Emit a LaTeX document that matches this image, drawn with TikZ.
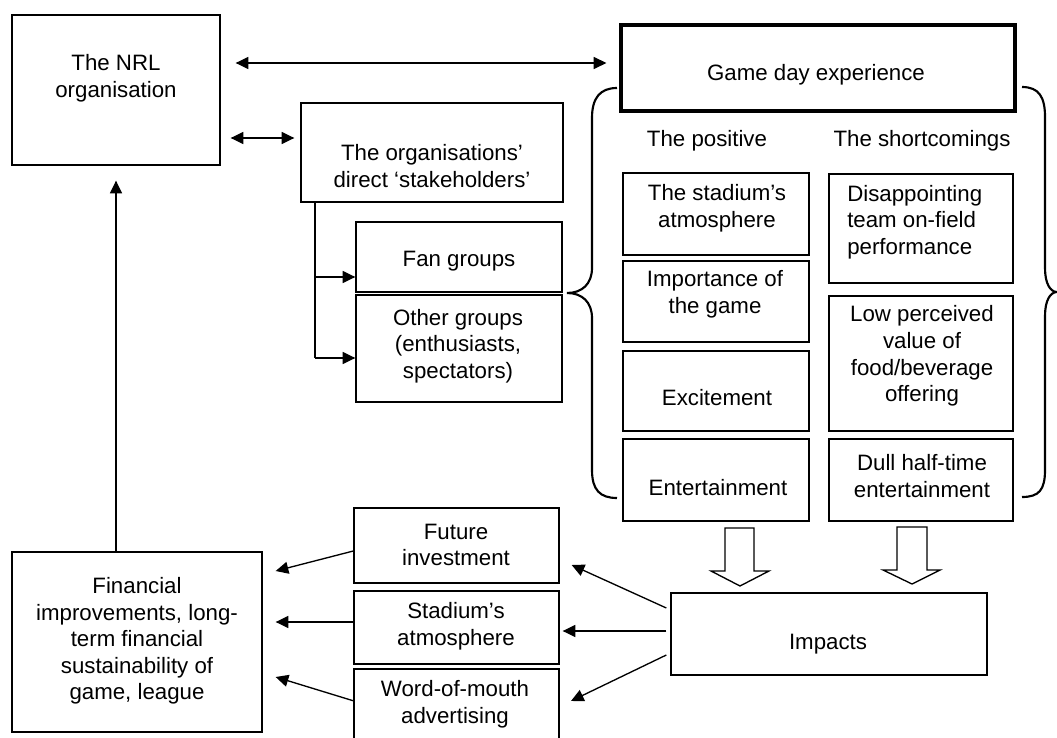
\documentclass[tikz,border=0pt]{standalone}
\usepackage{fontspec}
\setmainfont{Liberation Sans}
\usetikzlibrary{arrows.meta,fit,calc}
\newcommand\fsz{\fontsize{16.7}{19.9}\selectfont}
\begin{document}
\begin{tikzpicture}[x=0.75pt,y=-0.75pt,
  box/.style={draw, line width=1pt, inner sep=0pt},
  thickbox/.style={draw, line width=2.4pt, inner sep=0pt},
  txt/.style={align=center, inner sep=0pt, font=\fsz},
  arr/.style={line width=1pt, -{Triangle[length=9.5pt,width=9pt]}},
  dbl/.style={line width=1pt, {Triangle[length=9.5pt,width=9pt]}-{Triangle[length=9.5pt,width=9pt]}},
  brace/.style={line width=1.6pt},
  hollow/.style={draw, line width=1pt, fill=white, line join=miter}]
\useasboundingbox (0,0) rectangle (1057,738);
% boxes
\node[box, fit={(12,15)(220,165)}] (nrl) {};
\node[box, fit={(301,103)(563,202)}] (sh) {};
\node[box, fit={(356,222)(562,292)}] (fan) {};
\node[box, fit={(356,295)(562,402)}] (oth) {};
\node[thickbox, fit={(621,25)(1015,111)}] (gd) {};
\node[box, fit={(623,173)(809,255)}] (p1) {};
\node[box, fit={(623,261)(809,342)}] (p2) {};
\node[box, fit={(623,351)(809,431)}] (p3) {};
\node[box, fit={(623,439)(809,521)}] (p4) {};
\node[box, fit={(829,174)(1013,283)}] (s1) {};
\node[box, fit={(829,296)(1013,431)}] (s2) {};
\node[box, fit={(829,439)(1013,521)}] (s3) {};
\node[box, fit={(671,593)(987,675)}] (imp) {};
\node[box, fit={(12,552)(262,732)}] (fin) {};
\node[box, fit={(354,508)(559,583)}] (fut) {};
\node[box, fit={(354,591)(559,664)}] (sta) {};
\node[inner sep=0pt, outer sep=0pt, fit={(354,669)(559,740)}] (wom) {};
\draw[line width=1pt] (wom.south west) -- (wom.north west) -- (wom.north east) -- (wom.south east);
% texts
\node[txt] (nrlT) at (116,78) {The NRL\\organisation};
\node[txt] (shT) at (432,166) {The organisations’\\direct ‘stakeholders’};
\node[txt] (fanT) at (459,261) {Fan groups};
\node[txt] (othT) at (458,346) {Other groups\\(enthusiasts,\\spectators)};
\node[txt] (gdT) at (816,75) {Game day experience};
\node[txt] (posT) at (707,141) {The positive};
\node[txt] (shoT) at (922,141) {The shortcomings};
\node[txt] (p1T) at (717,208) {The stadium’s\\atmosphere};
\node[txt] (p2T) at (715,294) {Importance of\\the game};
\node[txt] (p3T) at (717,398) {Excitement};
\node[txt] (p4T) at (718,488) {Entertainment};
\node[txt, align=left, anchor=west] (s1T) at (847,222) {Disappointing\\team on-field\\performance};
\node[txt] (s2T) at (922,356) {Low perceived\\value of\\food/beverage\\offering};
\node[txt] (s3T) at (922,476) {Dull half-time\\entertainment};
\node[txt] (impT) at (828,644) {Impacts};
\node[txt] (finT) at (137,641) {Financial\\improvements, long-\\term financial\\sustainability of\\game, league};
\node[txt] (futT) at (456,545) {Future\\investment};
\node[txt] (staT) at (456,626) {Stadium’s\\atmosphere};
\node[txt] (womT) at (455,704) {Word-of-mouth\\advertising};
% braces
\draw[brace] (617,88) .. controls (600,88) and (592,98) .. (592,118) -- (592,268)
  .. controls (592,284) and (582,293) .. (567,293)
  .. controls (582,293) and (592,302) .. (592,318) -- (592,470)
  .. controls (592,490) and (600,498) .. (617,498);
\draw[brace] (1022,87) .. controls (1039,87) and (1045,97) .. (1045,117) -- (1045,268)
  .. controls (1045,283) and (1050,292) .. (1057,292)
  .. controls (1050,292) and (1045,301) .. (1045,316) -- (1045,470)
  .. controls (1045,490) and (1039,497) .. (1022,497);
% hollow arrows
\draw[hollow] (725,528) -- (754,528) -- (754,571) -- (769,571) -- (740,586) -- (711,571) -- (725,571) -- cycle;
\draw[hollow] (897,527) -- (927,527) -- (927,570) -- (940,570) -- (912,584) -- (883,570) -- (897,570) -- cycle;
% connectors
\draw[dbl] ($(nrl.east|-0,63)+(15,0)$) -- ($(gd.west|-0,63)+(-13,0)$);
\draw[dbl] ($(nrl.east|-0,138)+(10,0)$) -- ($(sh.west|-0,138)+(-6,0)$);
\draw[arr] (fin.north -| 116,0) -- ($(nrl.south -| 116,0)+(0,15)$);
\coordinate (j1) at (315,277);
\coordinate (j2) at (315,358);
\draw[line width=1pt] (sh.south -| j1) -- (j2);
\draw[arr] (j1) -- (j1 -| fan.west);
\draw[arr] (j2) -- (j2 -| oth.west);
\draw[arr] (fut.west |- 0,551) -- ($(fin.east |- 0,571)+(13,0)$);
\draw[arr] (sta.west |- 0,622) -- ($(fin.east |- 0,622)+(13,0)$);
\draw[arr] (wom.west |- 0,701) -- ($(fin.east |- 0,677)+(13,0)$);
\draw[arr] ($(imp.west |- 0,608)+(-4,0)$) -- ($(fut.east |- 0,565)+(12,0)$);
\draw[arr] ($(imp.west |- 0,631)+(-4,0)$) -- ($(sta.east |- 0,631)+(3,0)$);
\draw[arr] ($(imp.west |- 0,655)+(-4,0)$) -- ($(wom.east |- 0,701)+(12,0)$);
\end{tikzpicture}
\end{document}
